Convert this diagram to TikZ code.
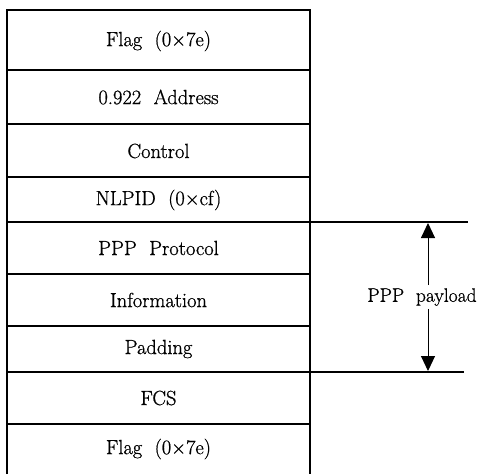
\documentclass[tikz,border=0pt]{standalone}
\usepackage{fontspec}
\setmainfont{Latin Modern Roman}[FakeBold=0.8]
\usetikzlibrary{arrows.meta}
\begin{document}
\begin{tikzpicture}[x=1pt,y=-1pt,
  rowtext/.style={font=\fontsize{20.5}{23}\selectfont, inner sep=1pt},
  sidetext/.style={font=\fontsize{19.5}{22}\selectfont, inner sep=3pt},
  frame/.style={line width=1.1pt},
  payarrow/.style={line width=1pt, -{Triangle[width=14pt,length=15pt]}}]
\useasboundingbox (0,0) rectangle (478,474);
% frame
\draw[frame] (7,474) -- (7,10) -- (310,10) -- (310,474);
\draw[frame] (7,70) -- (310,70);
\draw[frame] (7,124) -- (310,124);
\draw[frame] (7,177) -- (310,177);
\draw[frame] (7,222) -- (468,222);
\draw[frame] (7,274) -- (310,274);
\draw[frame] (7,326) -- (310,326);
\draw[frame] (7,372) -- (464,372);
\draw[frame] (7,424) -- (310,424);
% texts
\node[rowtext] (f1) at (158.5,41) {Flag\ \ (0×7e)};
\node[rowtext] (addr) at (158.5,97) {0.922\ \ Address};
\node[rowtext] (ctrl) at (158.5,151) {Control};
\node[rowtext] (nlpid) at (158.5,200) {NLPID\ \ (0×cf)};
\node[rowtext] (proto) at (158.5,248) {PPP\ \ Protocol};
\node[rowtext] (info) at (158.5,300) {Information};
\node[rowtext] (pad) at (158.5,349) {Padding};
\node[rowtext] (fcs) at (158.5,398) {FCS};
\node[rowtext] (f2) at (158.5,449) {Flag\ \ (0×7e)};
% payload arrow
\coordinate (top) at (428,223);
\coordinate (bot) at (428,371);
\node[sidetext] (pl) at (422,297) {PPP\ \ payload};
\draw[payarrow] (pl.north -| top) -- (top);
\draw[payarrow] (pl.south -| bot) -- (bot);
\end{tikzpicture}
\end{document}
